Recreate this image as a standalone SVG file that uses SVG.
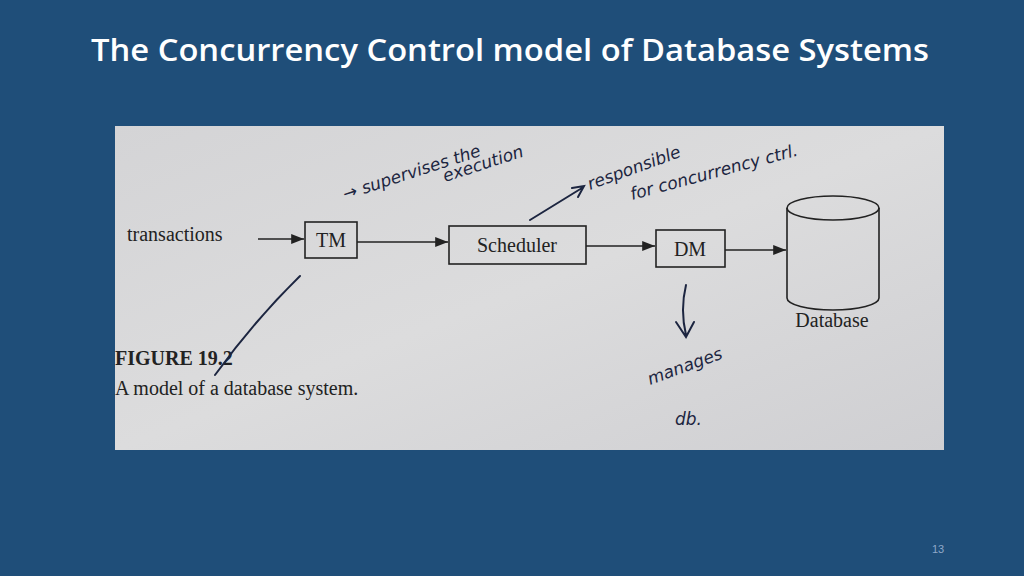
<svg xmlns="http://www.w3.org/2000/svg" width="1024" height="576" viewBox="0 0 1024 576">
<defs>
<linearGradient id="paper" x1="0" y1="0" x2="1" y2="1">
<stop offset="0" stop-color="#d4d4d6"/><stop offset="0.5" stop-color="#dcdcdd"/><stop offset="1" stop-color="#cfcfd2"/>
</linearGradient>
<marker id="ah" viewBox="0 0 10 10" refX="10" refY="5" markerWidth="8" markerHeight="8" orient="auto"><path d="M0,1 L10,5 L0,9 z" fill="#222"/></marker>
</defs>
<style>
.box{fill:none;stroke:#222;stroke-width:1.6}
.lbl{font-family:"Liberation Serif",serif;font-size:20px;fill:#222}
.hand{font-family:"DejaVu Sans",sans-serif;font-style:italic;font-size:17px;fill:#1c2540}
.ink{fill:none;stroke:#1c2540;stroke-width:2;stroke-linecap:round}
.con{stroke:#222;stroke-width:1.6;marker-end:url(#ah)}
</style>
<rect width="1024" height="576" fill="#1f4e79"/>
<text x="510" y="61" text-anchor="middle" font-family="Open Sans,sans-serif" font-weight="600" font-size="31" fill="#fff" textLength="838" lengthAdjust="spacingAndGlyphs">The Concurrency Control model of Database Systems</text>
<rect x="115" y="126" width="829" height="324" fill="url(#paper)"/>
<text class="lbl" x="127" y="241" font-size="19">transactions</text>
<g id="tm"><rect class="box" x="305" y="222" width="52" height="36"/><text class="lbl" x="331" y="247" text-anchor="middle">TM</text></g>
<g id="scheduler"><rect class="box" x="449" y="226" width="137" height="38"/><text class="lbl" x="517" y="252" text-anchor="middle">Scheduler</text></g>
<g id="dm"><rect class="box" x="656" y="230" width="69" height="37"/><text class="lbl" x="690" y="256" text-anchor="middle">DM</text></g>
<g id="database"><path class="box" d="M787,208 L787,298 A46,12 0 0 0 879,298 L879,208"/><ellipse class="box" cx="833" cy="208" rx="46" ry="12"/><text class="lbl" x="832" y="327" text-anchor="middle">Database</text></g>
<g id="connectors">
<line class="con" x1="258" y1="239" x2="304" y2="239"/>
<line class="con" x1="357" y1="242" x2="448" y2="242"/>
<line class="con" x1="586" y1="246" x2="655" y2="246"/>
<line class="con" x1="725" y1="250" x2="786" y2="250"/>
</g>
<text class="lbl" x="115" y="365" font-weight="bold">FIGURE 19.2</text>
<text class="lbl" x="115" y="395">A model of a database system.</text>
<g id="notes">
<text class="hand" x="345" y="200" transform="rotate(-18 345 200)">→ supervises the</text>
<text class="hand" x="445" y="182" transform="rotate(-18 445 182)">execution</text>
<text class="hand" x="590" y="190" transform="rotate(-20 590 190)">responsible</text>
<text class="hand" x="632" y="200" transform="rotate(-15 632 200)">for concurrency ctrl.</text>
<path class="ink" d="M530,220 L582,188 M572,188 L584,186 L578,197"/>
<path class="ink" d="M300,276 Q255,320 215,375"/>
<path class="ink" d="M686,285 Q680,310 686,335 M676,322 L686,337 L694,322"/>
<text class="hand" x="650" y="385" transform="rotate(-20 650 385)">manages</text>
<text class="hand" x="675" y="425" font-size="20">db.</text>
</g>
<text x="938" y="553" text-anchor="middle" font-family="Liberation Sans,sans-serif" font-size="11" fill="#8fa8c8">13</text>
</svg>
